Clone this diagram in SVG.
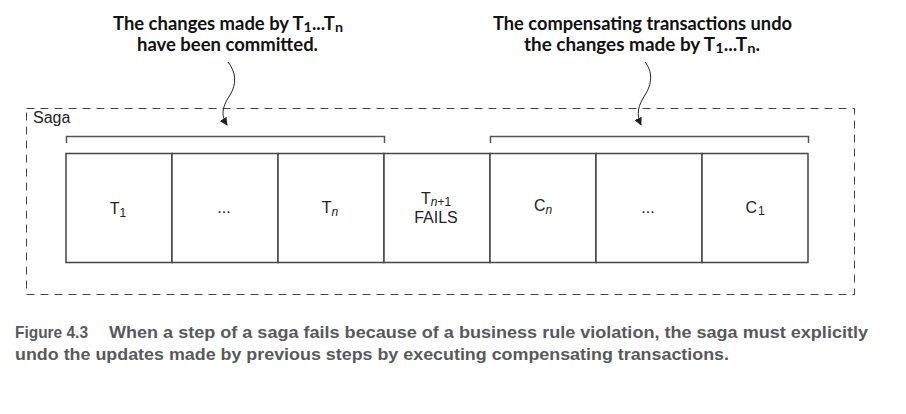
<svg xmlns="http://www.w3.org/2000/svg" width="906" height="414" viewBox="0 0 906 414">
<style>
.box{fill:#fff;stroke:#444;stroke-width:1.5}
.lbl{font-family:"Liberation Sans",Arial,sans-serif;font-size:16px;fill:#222;text-anchor:middle}
.sub{font-size:12px}
.ann{font-family:Lato,"Liberation Sans",sans-serif;font-weight:bold;font-size:18px;fill:#111}
.cap{font-family:"Liberation Sans",Arial,sans-serif;font-weight:bold;font-size:17px;fill:#58595b}
.brk{fill:none;stroke:#555;stroke-width:1.5}
.sq{fill:none;stroke:#222;stroke-width:1}
</style>
<defs>
<marker id="ah" viewBox="0 0 10 10" refX="9" refY="5" markerWidth="8" markerHeight="8" markerUnits="userSpaceOnUse" orient="auto">
<path d="M0,0 L10,5 L0,10 z" fill="#222"/>
</marker>
</defs>
<rect x="0" y="0" width="906" height="414" fill="#fff"/>
<g id="saga">
<rect x="26.5" y="108.5" width="828" height="186" fill="none" stroke="#444" stroke-width="1" stroke-dasharray="8,6"/>
<text x="33" y="123" style="font-family:'Liberation Sans',Arial,sans-serif;font-size:16px;fill:#222">Saga</text>
</g>
<g id="brackets">
<path class="brk" d="M66.5,143 V136.5 H384.5 V143"/>
<path class="brk" d="M490.5,143 V136.5 H808.5 V143"/>
</g>
<g id="t1"><rect class="box" x="66" y="153.5" width="106" height="109"/>
<text class="lbl" x="118" y="214">T<tspan class="sub" dy="3">1</tspan></text></g>
<g id="tdots"><rect class="box" x="172" y="153.5" width="106" height="109"/>
<text class="lbl" x="224" y="213">...</text></g>
<g id="tn"><rect class="box" x="278" y="153.5" width="106" height="109"/>
<text class="lbl" x="330" y="213">T<tspan class="sub" dy="3" font-style="italic">n</tspan></text></g>
<g id="tn1"><rect class="box" x="384" y="153.5" width="106" height="109"/>
<text class="lbl" x="436" y="204" font-size="15">T<tspan class="sub" dy="2"><tspan font-style="italic">n</tspan>+1</tspan></text>
<text class="lbl" x="436" y="223" font-size="15">FAILS</text></g>
<g id="cn"><rect class="box" x="490" y="153.5" width="106" height="109"/>
<text class="lbl" x="543" y="211">C<tspan class="sub" dy="3" font-style="italic">n</tspan></text></g>
<g id="cdots"><rect class="box" x="596" y="153.5" width="106" height="109"/>
<text class="lbl" x="648" y="213">...</text></g>
<g id="c1"><rect class="box" x="702" y="153.5" width="106" height="109"/>
<text class="lbl" x="755" y="213">C<tspan class="sub" dx="1" dy="2">1</tspan></text></g>
<g id="connectors">
<path class="sq" d="M228,62 C236,72 237,84 230,95 C223,106 220,114 227,125" marker-end="url(#ah)"/>
<path class="sq" d="M645,62 C653,72 652,84 645,95 C638,106 636,114 641,125" marker-end="url(#ah)"/>
</g>
<g id="annotation-left">
<text class="ann" x="113" y="30" textLength="230" lengthAdjust="spacingAndGlyphs">The changes made by T<tspan font-size="14" dy="2">1</tspan><tspan dy="-2">...T</tspan><tspan font-size="14" dy="2">n</tspan></text>
<text class="ann" x="137" y="51" textLength="181" lengthAdjust="spacingAndGlyphs">have been committed.</text>
</g>
<g id="annotation-right">
<text class="ann" x="493" y="30" textLength="299" lengthAdjust="spacingAndGlyphs">The compensating transactions undo</text>
<text class="ann" x="524" y="51" textLength="236" lengthAdjust="spacingAndGlyphs">the changes made by T<tspan font-size="14" dy="2">1</tspan><tspan dy="-2">...T</tspan><tspan font-size="14" dy="2">n</tspan><tspan dy="-2">.</tspan></text>
</g>
<g id="caption">
<text class="cap" x="15" y="338" textLength="73" lengthAdjust="spacingAndGlyphs">Figure 4.3</text>
<text class="cap" x="109" y="338" textLength="759" lengthAdjust="spacingAndGlyphs">When a step of a saga fails because of a business rule violation, the saga must explicitly</text>
<text class="cap" x="15" y="360" textLength="714" lengthAdjust="spacingAndGlyphs">undo the updates made by previous steps by executing compensating transactions.</text>
</g>
</svg>
